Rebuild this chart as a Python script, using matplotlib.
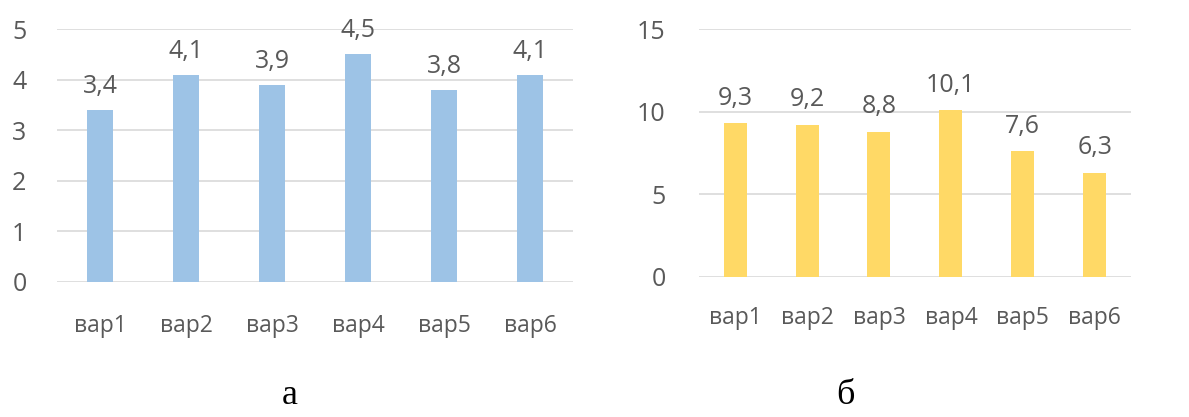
import numpy as np
from matplotlib import pyplot as plt

categories = ['вар1', 'вар2', 'вар3', 'вар4', 'вар5', 'вар6']
values_a = [3.4, 4.1, 3.9, 4.5, 3.8, 4.1]
values_b = [9.3, 9.2, 8.8, 10.1, 7.6, 6.3]
ticks_a = [0, 1, 2, 3, 4, 5]
ticks_b = [0, 5, 10, 15]

TEXT = '#595959'
GRID = '#D9D9D9'
FONT = 'Open Sans'


def draw_panel(ax, values, ticks, color, width, label_off):
    x = np.arange(len(categories))
    ax.bar(x, values, width=width, color=color, zorder=3)
    for xi, v in zip(x, values):
        ax.annotate(('%.1f' % v).replace('.', ','), (xi, v), xytext=(0, label_off),
                    textcoords='offset points', ha='center', va='bottom',
                    fontsize=18, color=TEXT, family=FONT)
    ax.set_xlim(-0.5, len(categories) - 0.5)
    ax.set_ylim(ticks[0], ticks[-1])
    ax.set_yticks(ticks)
    ax.set_xticks(x)
    ax.set_xticklabels(categories)
    ax.yaxis.grid(True, color=GRID, linewidth=1.2, zorder=0)
    ax.set_axisbelow(True)
    for s in ax.spines.values():
        s.set_visible(False)
    ax.tick_params(length=0, colors=TEXT)
    ax.tick_params(axis='y', labelsize=18, pad=22)
    ax.tick_params(axis='x', labelsize=16.5, pad=23)
    for lbl in ax.get_xticklabels() + ax.get_yticklabels():
        lbl.set_family(FONT)


def main():
    fig = plt.figure(figsize=(11.89, 4.17), dpi=100)
    ax1 = fig.add_axes([0.048, 0.324, 0.434, 0.606])
    ax2 = fig.add_axes([0.588, 0.336, 0.363, 0.594])

    draw_panel(ax1, values_a, ticks_a, '#9DC3E6', 0.30, 8)
    draw_panel(ax2, values_b, ticks_b, '#FFD966', 0.32, 9)
    ax2.tick_params(axis='y', pad=24)
    ax2.tick_params(axis='x', pad=21)

    fig.text(0.244, 0.03, 'а', fontsize=26, family='Liberation Serif', ha='center')
    fig.text(0.711, 0.03, 'б', fontsize=26, family='Liberation Serif', ha='center')

    fig.savefig('out.png', dpi=100, facecolor='white')


if __name__ == '__main__':
    main()
